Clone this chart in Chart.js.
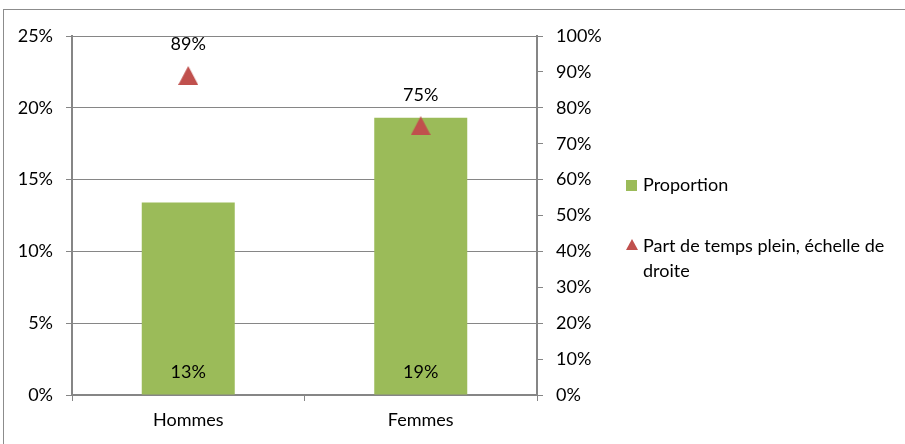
<!DOCTYPE html>
<html>
<head>
<meta charset="utf-8">
<script src="https://cdn.jsdelivr.net/npm/chart.js@4/dist/chart.umd.min.js"></script>
<style>
  html, body { margin: 0; padding: 0; background: #fff; }
  #wrap { position: relative; width: 905px; height: 444px; overflow: hidden; }
  #frame { position: absolute; left: 3px; top: 9px; width: 920px; height: 460px; border: 1px solid #8c8c8c; box-sizing: border-box; }
  canvas { position: absolute; left: 0; top: 0; }
  .leg { position: absolute; font-family: Lato, sans-serif; font-size: 18px; color: #000; line-height: 25px; }
  .sq { position: absolute; width: 11px; height: 11px; background: #9BBB59; }
</style>
</head>
<body>
<div id="wrap">
  <div id="frame"></div>
  <canvas id="c" width="905" height="444"></canvas>
  <div class="sq" style="left:626px; top:180px;"></div>
  <div class="leg" style="left:643px; top:172px;">Proportion</div>
  <canvas id="tri" width="12" height="11" style="left:626px; top:239px;"></canvas>
  <div class="leg" style="left:643px; top:233px; width:262px;">Part de temps plein, échelle de droite</div>
</div>
<script>
const categories = ["Hommes", "Femmes"];
const proportion = [13.4, 19.3];
const tempsPlein = [89, 75];
const proportionLabels = ["13%", "19%"];
const tempsPleinLabels = ["89%", "75%"];
const seriesNames = ["Proportion", "Part de temps plein, échelle de droite"];

const GREEN = '#9BBB59';
const RED = '#C0504D';
const GRID = '#868686';
const FONT = 'Lato, sans-serif';
const FS = 18;

function triCanvas(w, h) {
  const c = document.createElement('canvas');
  c.width = w; c.height = h;
  const g = c.getContext('2d');
  g.fillStyle = RED;
  g.beginPath();
  g.moveTo(w / 2, 0);
  g.lineTo(w, h);
  g.lineTo(0, h);
  g.closePath();
  g.fill();
  return c;
}
const triImg = triCanvas(20, 19);
(function(){
  const g = document.getElementById('tri').getContext('2d');
  g.fillStyle = RED;
  g.beginPath(); g.moveTo(6, 0); g.lineTo(12, 11); g.lineTo(0, 11); g.closePath(); g.fill();
})();

const labelPlugin = {
  id: 'labels',
  afterDatasetsDraw(chart) {
    const ctx = chart.ctx;
    ctx.save();
    ctx.font = FS + 'px ' + FONT;
    ctx.fillStyle = '#000';
    ctx.textAlign = 'center';
    ctx.textBaseline = 'middle';
    const m0 = chart.getDatasetMeta(0);
    m0.data.forEach((el, i) => {
      ctx.fillText(proportionLabels[i], el.x, el.base - 22);
    });
    const m1 = chart.getDatasetMeta(1);
    m1.data.forEach((el, i) => {
      ctx.fillText(tempsPleinLabels[i], el.x, el.y - 31);
    });
    ctx.restore();
  }
};

new Chart(document.getElementById('c'), {
  data: {
    labels: categories,
    datasets: [
      {
        type: 'bar',
        label: seriesNames[0],
        data: proportion,
        backgroundColor: GREEN,
        borderWidth: 0,
        barPercentage: 0.4,
        categoryPercentage: 1.0,
        yAxisID: 'y',
        order: 2
      },
      {
        type: 'line',
        label: seriesNames[1],
        data: tempsPlein,
        showLine: false,
        pointStyle: triImg,
        pointRadius: 10,
        yAxisID: 'y1',
        order: 1
      }
    ]
  },
  options: {
    responsive: false,
    animation: false,
    events: [],
    layout: { padding: { top: 36, left: 0, right: 0, bottom: 0 } },
    plugins: {
      legend: { display: false },
      tooltip: { enabled: false }
    },
    scales: {
      x: {
        offset: true,
        grid: { display: true, drawOnChartArea: false, drawTicks: true, tickLength: 6, color: GRID, offset: true },
        border: { display: true, color: GRID, width: 2 },
        ticks: { font: { family: FONT, size: FS }, color: '#000', padding: 8 },
        afterFit(s) { s.height = 49; }
      },
      y: {
        position: 'left',
        min: 0, max: 25,
        ticks: { stepSize: 5, font: { family: FONT, size: FS }, color: '#000', padding: 13, callback: v => v + '%' },
        grid: { color: GRID, lineWidth: 1, tickLength: 6, drawTicks: true },
        border: { display: true, color: GRID, width: 2 },
        afterFit(s) { s.width = 72; }
      },
      y1: {
        position: 'right',
        min: 0, max: 100,
        ticks: { stepSize: 10, font: { family: FONT, size: FS }, color: '#000', padding: 13, callback: v => v + '%' },
        grid: { drawOnChartArea: false, color: GRID, tickLength: 6, drawTicks: true },
        border: { display: true, color: GRID, width: 2 },
        afterFit(s) { s.width = 368; }
      }
    }
  },
  plugins: [labelPlugin]
});
</script>
</body>
</html>
